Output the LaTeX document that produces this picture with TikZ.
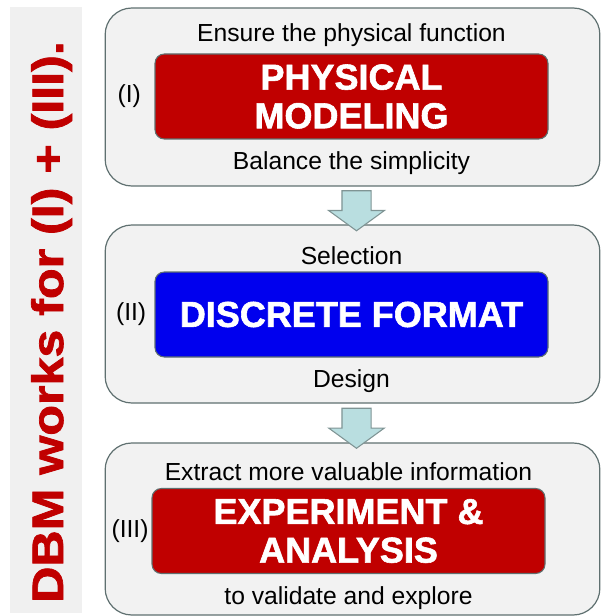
\documentclass[tikz,border=0pt]{standalone}
\usepackage{fontspec}
\setmainfont{Liberation Sans}
\newfontfamily\heavyfont{Liberation Sans Bold}[FakeBold=1.6]
\usepackage{xcolor}
\definecolor{edgeGray}{HTML}{5F7070}
\definecolor{stageBg}{HTML}{F2F2F2}
\definecolor{bandBg}{HTML}{F0F0F0}
\definecolor{mainRed}{HTML}{C00000}
\definecolor{mainBlue}{HTML}{0000EE}
\definecolor{arrowFill}{HTML}{B9DEE0}
\definecolor{arrowEdge}{HTML}{7F9494}
\usepackage{tikz}
\usetikzlibrary{shapes,arrows,positioning,calc,arrows.meta,shapes.misc}
\tikzset{%
  stageBox/.style={%
    rectangle,
    rounded corners=20pt,
    draw=edgeGray,
    line width=0.9pt,
    fill=stageBg,
    minimum width=371pt
  },
  coreBox/.style={%
    rectangle,
    rounded corners=7pt,
    draw=edgeGray,
    line width=0.8pt,
    text=white,
    minimum width=294.75pt,
    minimum height=63.75pt,
    align=center,
    font=\heavyfont\fontsize{27}{29}\selectfont
  },
  noteText/.style={%
    inner sep=0pt,
    font=\fontsize{18.5}{21}\selectfont
  },
  stepArrow/.style={%
    single arrow,
    draw=arrowEdge,
    fill=arrowFill,
    line width=0.8pt,
    shape border rotate=270,
    single arrow head extend=10pt,
    single arrow head indent=0pt,
    single arrow tip angle=108,
    minimum height=30pt,
    inner sep=10.5pt
  }
}

\begin{document}
\begin{tikzpicture}[x=0.75pt,y=-0.75pt]
            \useasboundingbox (0,0) rectangle (602,616);

            % side band
            \fill[bandBg] (10,7) rectangle (82,613);
            \node[rotate=90, anchor=base, text=mainRed, inner sep=0pt,
                  font=\heavyfont\fontsize{33}{36}\selectfont] (claim) at (63,322)
                  {\scalebox{1.14}[1]{DBM works for (I) + (III).}};

            % stages
            \node[stageBox, minimum height=133.5pt] (stage1) at (352.5,97) {};
            \node[stageBox, minimum height=133.5pt] (stage2) at (352.5,314) {};
            \node[stageBox, minimum height=129pt] (stage3) at (352.5,529) {};

            \node[coreBox, fill=mainRed] (phys) at (351.5,96.5) {PHYSICAL\\MODELING};
            \node[coreBox, fill=mainBlue] (disc) at (351.5,314.5) {DISCRETE FORMAT};
            \node[coreBox, fill=mainRed] (expe) at (348.5,531) {EXPERIMENT \&\\ANALYSIS};

            \node[noteText, above=5pt of phys] (physTop) {Ensure the physical function};
            \node[noteText, below=9pt of phys] (physBot) {Balance the simplicity};
            \node[noteText, above=5pt of disc] (discTop) {Selection};
            \node[noteText, below=9pt of disc] (discBot) {Design};
            \node[noteText, above=5pt of expe] (expeTop) {Extract more valuable information};
            \node[noteText, below=9pt of expe] (expeBot) {to validate and explore};

            \node[noteText, left=10pt of phys] (labOne) {(I)};
            \node[noteText, left=6pt of disc] (labTwo) {(II)};
            \node[noteText, left=2pt of expe] (labThree) {(III)};

            % arrows between stages
            \node[stepArrow] (step1) at ($(stage1.south)!0.5!(stage2.north)+(4,0)$) {};
            \node[stepArrow] (step2) at ($(stage2.south)!0.5!(stage3.north)+(4,0)$) {};
        \end{tikzpicture}
\end{document}
